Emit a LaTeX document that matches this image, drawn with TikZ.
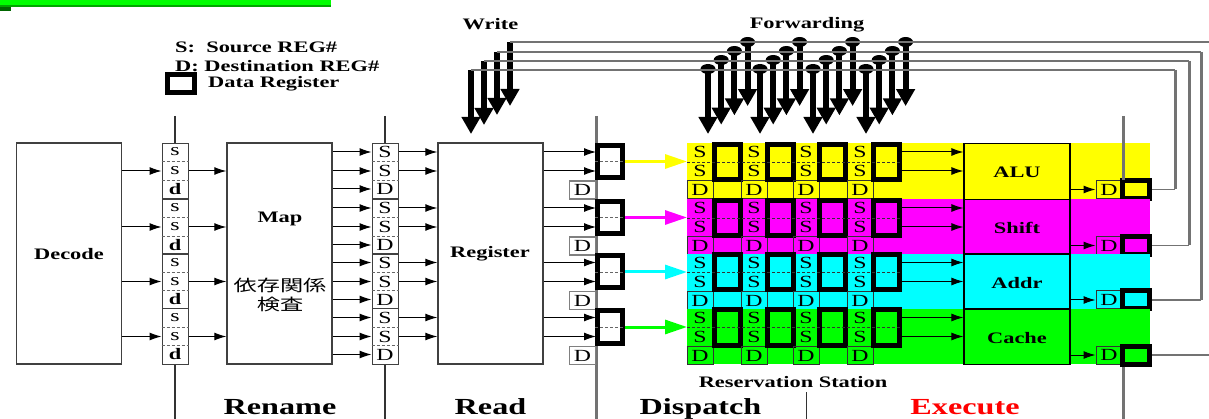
\documentclass[tikz,border=0pt]{standalone}
\usepackage{fontspec}
\setmainfont[FakeStretch=1.4]{Liberation Serif}
\newfontfamily\cjk[FakeStretch=1.45]{Noto Sans CJK JP}
\usetikzlibrary{arrows.meta}
\usetikzlibrary{calc}
\usetikzlibrary{shapes.geometric}
\definecolor{rowyellow}{rgb}{1,1,0}
\definecolor{rowmagenta}{rgb}{1,0,1}
\definecolor{rowcyan}{rgb}{0,1,1}
\definecolor{rowgreen}{rgb}{0,1,0}
\tikzset{
  blockbox/.style={draw=black!75,line width=1.4pt,inner sep=0pt,minimum width=105pt,minimum height=221pt},
  pipebox/.style={draw=black!75,line width=1pt,inner sep=0pt,minimum width=26pt,minimum height=55pt},
  databox/.style={draw=black,line width=5pt,inner sep=0pt},
  dbox/.style={draw=black!80,line width=1pt,inner sep=0pt,minimum width=26pt,minimum height=18pt,font=\fontsize{17}{17}\selectfont},
  letter/.style={inner sep=0pt,font=\fontsize{17}{17}\selectfont},
  lbl/.style={inner sep=0pt,font=\fontsize{16}{16}\selectfont\bfseries},
  stagelbl/.style={inner sep=0pt,anchor=base,font=\fontsize{23}{23}\selectfont\bfseries},
  arr/.style={-{Latex[length=12pt,width=8pt]},line width=1pt},
  bigarr/.style={-{Triangle[length=17pt,width=18pt]},line width=6pt},
  colarr/.style={-{Triangle[length=22pt,width=14pt]},line width=3pt},
  bus/.style={draw=black!55,line width=1.5pt},
  busv/.style={draw=black!55,line width=3pt},
  stage/.style={draw=black!80,line width=1.3pt},
  dotline/.style={draw=black!60,line width=0.7pt,dash pattern=on 3pt off 2pt}
}
\begin{document}
\begin{tikzpicture}[x=1pt,y=-1pt]
  \useasboundingbox (0,0) rectangle (1209,419);
  % Top bar
  \fill[green!65!black] (0,0) rectangle (331,7);
  \fill[rowgreen] (0,0) rectangle (331,5);
  \fill[green!40!black] (0,7) rectangle (11,11);

  % Legend
  \node[lbl,anchor=west] (lgs) at (175,47) {S:~~Source REG\#};
  \node[lbl,anchor=west] (lgd) at (175,66) {D: Destination REG\#};
  \node[databox,minimum width=27pt,minimum height=18pt] (lgreg) at (181,83.5) {};
  \node[lbl,anchor=west] (lgr) at (208,84) {Data Register};
  \node[lbl] (wrlbl) at (490.5,24) {Write};
  \node[lbl] (fwlbl) at (807,24.5) {Forwarding};

  % Stage lines
  \coordinate (cut1) at (175,116);
  \coordinate (cut2) at (385,116);
  \coordinate (cut3) at (596,116);
  \coordinate (cut4) at (1123,116);
  \coordinate (cut1b) at (175,419);
  \coordinate (cut2b) at (385,419);
  \coordinate (cut3b) at (596,419);
  \coordinate (cut4b) at (1123,419);
  \coordinate (cut5) at (806.5,392);
  \coordinate (cut5b) at (806.5,419);
  \draw[busv] (cut3) -- (cut3b);
  \draw[stage] (cut5) -- (cut5b);

  % Big blocks
  \node[blockbox] (decode) at (69,253.5) {};
  \node[blockbox] (mapblk) at (279.5,253.5) {};
  \node[blockbox] (regfile) at (490.5,253.5) {};
  \node[lbl] (declbl) at (69,254) {Decode};
  \node[lbl] (maplbl) at (280,218.5) {Map};
  \node[lbl,font=\fontsize{16}{16}\cjk] (deplbl) at (280,285) {依存関係};
  \node[lbl,font=\fontsize{16}{16}\cjk] (chklbl) at (280,304) {検査};
  \node[lbl] (reglbl) at (490,254) {Register};

  % One row per colour
  \foreach \rowy/\col/\nm/\hgt in {143/rowyellow/a/56,199/rowmagenta/b/54.5,253.5/rowcyan/c/55,308.5/rowgreen/d/55.5}{
    \node[fill=\col,inner sep=0pt,minimum width=463pt,minimum height=\hgt pt,anchor=north west] (band\nm) at (687,\rowy) {};

    % Rename columns
    \node[pipebox,anchor=north] (pa\nm) at (175,\rowy) {};
    \node[pipebox,anchor=north] (pb\nm) at (385,\rowy) {};
    \foreach \pp in {pa,pb}{
      \draw[dotline] ([yshift=-18.5pt]\pp\nm.north west) -- ([yshift=-18.5pt]\pp\nm.north east);
      \draw[dotline] ([yshift=-37pt]\pp\nm.north west) -- ([yshift=-37pt]\pp\nm.north east);
    }
    \node[letter] (la\nm1) at (175,\rowy+9) {s};
    \node[letter] (la\nm2) at (175,\rowy+28) {s};
    \node[letter,font=\fontsize{16}{16}\selectfont\bfseries] (la\nm3) at (175,\rowy+46) {d};
    \node[letter] (lb\nm1) at (385,\rowy+9) {S};
    \node[letter] (lb\nm2) at (385,\rowy+28) {S};
    \node[letter] (lb\nm3) at (385,\rowy+46) {D};

    \draw[arr] (decode.east |- la\nm2) -- (la\nm2 -| pa\nm.west);
    \draw[arr] (pa\nm.east |- la\nm2) -- (la\nm2 -| mapblk.west);
    \foreach \i in {1,2,3}{
      \draw[arr] (mapblk.east |- lb\nm\i) -- (lb\nm\i -| pb\nm.west);
    }
    \foreach \i in {1,2}{
      \draw[arr] (pb\nm.east |- lb\nm\i) -- (lb\nm\i -| regfile.west);
    }

    % Dispatch registers
    \node[databox,minimum width=25pt,minimum height=32pt] (disp\nm) at (610,\rowy+18.5) {};
    \node[dbox,draw=black!50,line width=1.8pt] (dtag\nm) at (582.5,\rowy+47) {D};
    \draw[dotline] (disp\nm.west) -- (disp\nm.east);
    \coordinate (in\nm1) at (596,\rowy+9);
    \coordinate (in\nm2) at (596,\rowy+28);
    \draw[arr] (regfile.east |- in\nm1) -- (in\nm1);
    \draw[arr] (regfile.east |- in\nm2) -- (in\nm2);
    \draw[colarr,\col] (disp\nm.east) -- (disp\nm -| band\nm.west);

    % Reservation station
    \foreach \c/\sx/\rx in {1/700/727.5,2/754/780.5,3/806/832.5,4/860/886}{
      \node[letter] (rs\nm\c) at (\sx,\rowy+9) {S};
      \node[letter] (rt\nm\c) at (\sx,\rowy+28) {S};
      \node[dbox] (rd\nm\c) at (\sx,\rowy+47) {D};
      \node[databox,minimum width=26pt,minimum height=35pt] (rr\nm\c) at (\rx,\rowy+19) {};
    }
    \draw[dotline,draw=black!80] (band\nm.west |- rr\nm1) -- (rr\nm4.east);
    \coordinate (rso\nm1) at (rr\nm4.east |- rs\nm1);
    \coordinate (rso\nm2) at (rr\nm4.east |- rt\nm1);

    % Execute
    \node[draw=black,line width=1.2pt,fill=\col,inner sep=0pt,minimum width=106pt,minimum height=\hgt pt,anchor=north] (unit\nm) at (1017,\rowy) {};
    \draw[arr] (rso\nm1) -- (rso\nm1 -| unit\nm.west);
    \draw[arr] (rso\nm2) -- (rso\nm2 -| unit\nm.west);
    \node[dbox] (otag\nm) at (1109,\rowy+46.5) {D};
    \node[databox,minimum width=27pt,minimum height=18pt] (oreg\nm) at (1136,\rowy+46.5) {};
    \draw[arr] (unit\nm.east |- otag\nm) -- (otag\nm.west);
  }
  \draw[stage] (cut1) -- (paa.north);
  \draw[stage] (pad.south) -- (cut1b);
  \draw[stage] (cut2) -- (pba.north);
  \draw[stage] (pbd.south) -- (cut2b);
  \draw[busv] (cut4) -- (otaga.north -| cut4);
  \draw[busv] (oregd.south -| cut4b) -- (cut4b);

  % Unit names
  \node[lbl,yshift=-1pt] (alulbl) at (unita) {ALU};
  \node[lbl,yshift=-1pt] (shlbl) at (unitb) {Shift};
  \node[lbl,yshift=-1pt] (adlbl) at (unitc) {Addr};
  \node[lbl,yshift=-1pt] (calbl) at (unitd) {Cache};

  % Write arrows
  \foreach \i/\wx/\wy/\wt in {0/471/70/134,1/484/61/125,2/497/52/115,3/510/42/106}{
    \coordinate (wr\i) at (\wx,\wy);
    \coordinate (wrt\i) at (\wx,\wt);
    \draw[bigarr] (wr\i) -- (wrt\i);
  }

  % Forwarding arrows
  \foreach \grp/\gx in {a/708,b/760,c/813,d/866}{
    \foreach \i in {0,1,2,3}{
      \node[ellipse,fill=black,inner sep=0pt,minimum width=15pt,minimum height=10pt] (fw\grp\i) at (\gx+13.2*\i,69-9*\i) {};
      \coordinate (fwt\grp\i) at (\gx+13.2*\i,134-9.3*\i);
      \draw[bigarr] (fw\grp\i.center) -- (fwt\grp\i);
    }
  }

  % Result buses
  \coordinate (rimtop) at (1209,42);
  \coordinate (rimlow) at (1209,355);
  \coordinate (fba) at (1175,70);
  \coordinate (fbb) at (1189,61);
  \coordinate (fbc) at (1201,52);
  \draw[bus] (wr3) -- (rimtop);
  \draw[bus] (wr2) -- (fbc);
  \draw[bus] (wr1) -- (fbb);
  \draw[bus] (wr0) -- (fba);
  \draw[busv] (fba) -- (fba |- orega);
  \draw[busv] (fbb) -- (fbb |- oregb);
  \draw[busv] (fbc) -- (fbc |- oregc);
  \draw[bus] (orega.east) -- (fba |- orega);
  \draw[bus] (oregb.east) -- (fbb |- oregb);
  \draw[bus] (oregc.east) -- (fbc |- oregc);
  \draw[bus] (oregd.east) -- (rimlow);

  % Stage names
  \node[lbl] (rslbl) at (793,382) {Reservation Station};
  \node[stagelbl] (st1) at (280,414) {Rename};
  \node[stagelbl] (st2) at (490.5,414) {Read};
  \node[stagelbl] (st3) at (700.5,414) {Dispatch};
  \node[stagelbl,text=red] (st4) at (965,414) {Execute};
\end{tikzpicture}
\end{document}
